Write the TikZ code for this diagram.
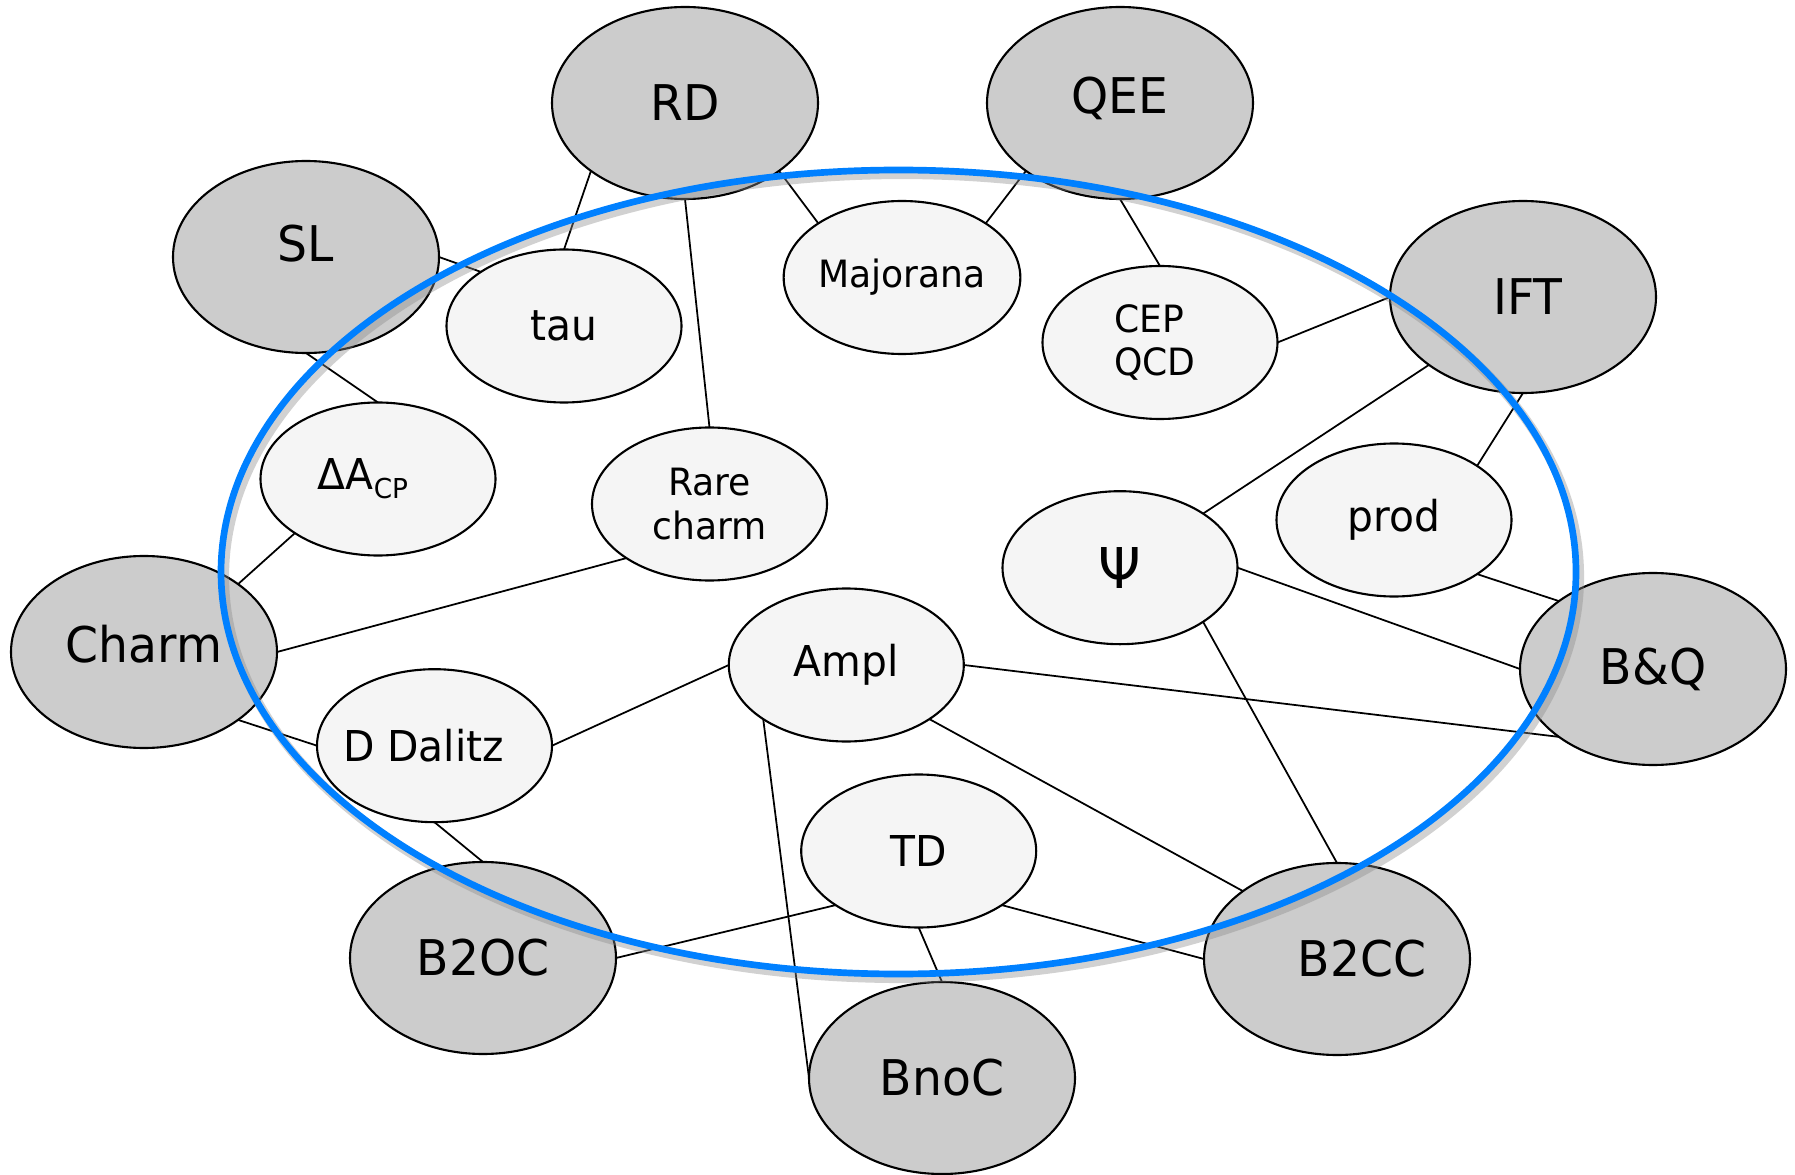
\documentclass[tikz,border=0pt]{standalone}
\usepackage{fontspec}
\setmainfont{DejaVu Sans}[FakeStretch=0.96]
\usepackage{tikz}
\usetikzlibrary{shapes.geometric,backgrounds}
\definecolor{ringblue}{RGB}{0,128,255}

\begin{document}
\begin{tikzpicture}[
  bigtxt/.style={font=\fontsize{14}{16}\selectfont},
  medtxt/.style={font=\fontsize{12.1}{14}\selectfont},
  smalltxt/.style={font=\fontsize{10.7}{12.4}\selectfont,align=center},
  grp/.style={ellipse,draw=black,line width=0.6pt,fill=black!20,inner sep=0pt,outer sep=0pt,
    minimum width=2.66cm,minimum height=1.92cm,bigtxt},
  topic/.style={ellipse,draw=black,line width=0.6pt,fill=black!4,inner sep=0pt,outer sep=0pt,
    minimum width=2.35cm,minimum height=1.53cm,medtxt},
  link/.style={black,line width=0.5pt},
  ring/.style={draw=ringblue,line width=1.9pt},
  ringshadow/.style={draw=black!45,line width=2.6pt,opacity=0.4}
]
\useasboundingbox (0,0) rectangle (17.95,11.74);

% working groups
\node[grp] (RD)   at (6.85,10.71) {RD};
\node[grp,label={[bigtxt,yshift=0.05cm]center:QEE}] (QEE) at (11.20,10.71) {};
\node[grp,label={[bigtxt,yshift=0.13cm]center:SL}] (SL) at (3.06,9.17) {};
\node[grp,label={[bigtxt,xshift=0.05cm]center:IFT}] (IFT) at (15.23,8.77) {};
\node[grp,label={[bigtxt,yshift=0.08cm]center:Charm}] (Charm) at (1.44,5.22) {};
\node[grp] (BQ)   at (16.53,5.05) {B\&Q};
\node[grp] (B2OC) at (4.83,2.16) {B2OC};
\node[grp,label={[bigtxt,xshift=0.25cm]center:B2CC}] (B2CC) at (13.37,2.15) {};
\node[grp] (BnoC) at (9.42,0.96) {BnoC};

% topics
\node[topic] (tau)  at (5.64,8.48) {tau};
\node[topic,smalltxt] (Maj) at (9.02,8.965) {Majorana};
\node[topic,label={[smalltxt,align=left,xshift=-0.05cm]center:CEP\\QCD}] (CEP) at (11.60,8.315) {};
\node[topic,label={[medtxt,xshift=-0.15cm]center:ΔA\raisebox{-2.6pt}{\fontsize{7.8}{8}\selectfont CP}}] (DACP) at (3.78,6.95) {};
\node[topic,smalltxt] (Rare) at (7.095,6.70) {Rare\\charm};
\node[topic,font=\fontsize{16}{18}\selectfont] (Psi) at (11.20,6.063) {Ψ};
\node[topic] (prod) at (13.94,6.54) {prod};
\node[topic] (Ampl) at (8.463,5.09) {Ampl};
\node[topic,label={[medtxt,xshift=-0.11cm]center:D Dalitz}] (DDal) at (4.345,4.283) {};
\node[topic] (TD)   at (9.187,3.23) {TD};

\begin{scope}[on background layer]
\draw[link] (RD.south west) -- (tau.north);
\draw[link] (RD.south) -- (Rare.north);
\draw[link] (RD.south east) -- (Maj.north west);
\draw[link] (QEE.south west) -- (Maj.north east);
\draw[link] (QEE.south) -- (CEP.north);
\draw[link] (SL.east) -- (tau.north west);
\draw[link] (SL.south) -- (DACP.north);
\draw[link] (CEP.east) -- (IFT.west);
\draw[link] (IFT.south west) -- (Psi.north east);
\draw[link] (IFT.south) -- (prod.north east);
\draw[link] (prod.south east) -- (BQ.north west);
\draw[link] (Psi.east) -- (BQ.west);
\draw[link] (Psi.south east) -- (B2CC.north);
\draw[link] (DACP.south west) -- (Charm.north east);
\draw[link] (Rare.south west) -- (Charm.east);
\draw[link] (Charm.south east) -- (DDal.west);
\draw[link] (DDal.east) -- (Ampl.west);
\draw[link] (DDal.south) -- (B2OC.north);
\draw[link] (Ampl.east) -- (BQ.south west);
\draw[link] (Ampl.south east) -- (B2CC.north west);
\draw[link] (Ampl.south west) -- (BnoC.west);
\draw[link] (TD.south west) -- (B2OC.east);
\draw[link] (TD.south east) -- (B2CC.west);
\draw[link] (TD.south) -- (BnoC.north);
\end{scope}

% blue ring on top
\coordinate (ctr) at (8.985,6.02);
\draw[ringshadow] ([shift={(0.035,-0.045)}]ctr) ellipse [x radius=6.775, y radius=4.02];
\draw[ring] (ctr) ellipse [x radius=6.775, y radius=4.02];
\end{tikzpicture}
\end{document}
